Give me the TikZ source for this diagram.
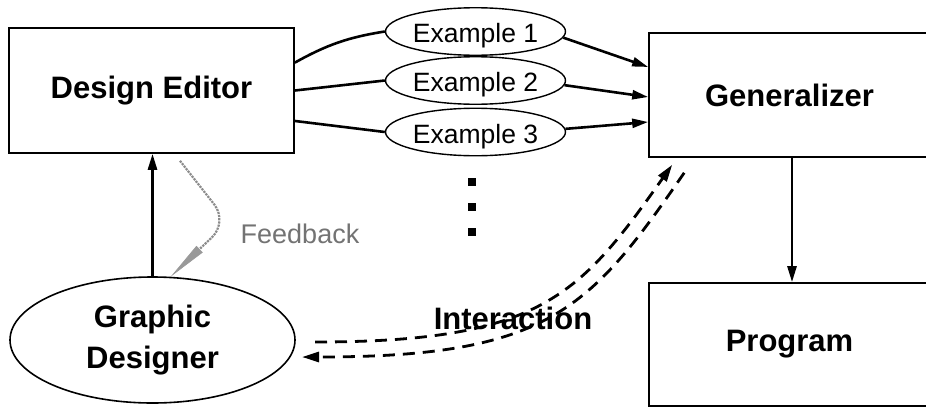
\documentclass[tikz,border=0pt]{standalone}
\usepackage{fontspec}
\setmainfont{Liberation Sans}
\usetikzlibrary{arrows.meta,shapes.geometric,calc}
\tikzset{
  bigbox/.style={draw, line width=1.6pt, rectangle, inner sep=0pt, font=\fontsize{31}{36}\selectfont\bfseries},
  exell/.style={draw, line width=1.4pt, ellipse, inner sep=0pt, minimum width=180pt, minimum height=35pt,
                text height=28pt, text depth=5.6pt, font=\fontsize{26.5}{30}\selectfont},
  link/.style={line width=2.6pt},
  arr/.style={line width=2.6pt, -{Triangle[length=16pt,width=9pt]}},
  dasharr/.style={line width=2.8pt, dash pattern=on 12pt off 8pt, -{Triangle[length=17pt,width=10pt]}},
  dotsq/.style={fill=black, inner sep=0pt, minimum size=8pt, rectangle},
}
\begin{document}
\begin{tikzpicture}[x=1pt,y=-1pt]
\useasboundingbox (0,0) rectangle (926,407);
% boxes
\node[bigbox, minimum width=285pt, minimum height=125pt] (de) at (151.5,90.5) {Design Editor};
\node[bigbox, minimum width=281pt, minimum height=124pt] (gen) at (789.5,95) {Generalizer};
\node[bigbox, minimum width=281pt, minimum height=123pt] (prog) at (789.5,344.5) {Program};
\node[draw, line width=1.6pt, ellipse, inner sep=0pt, minimum width=285pt, minimum height=126pt,
      align=center, font=\fontsize{31}{41}\selectfont\bfseries] (gd) at (152.5,340) {Graphic\\Designer};
% examples
\node[exell] (ex1) at (475.5,31.5) {Example 1};
\node[exell] (ex2) at (475.5,80.5) {Example 2};
\node[exell] (ex3) at (475.5,132) {Example 3};
% links
\draw[link] (de.11) to[bend left=10] (ex1.west);
\draw[link] (de.east) -- (ex2.west);
\draw[link] (de.-12) -- (ex3.west);
\draw[arr] (ex1.-4) -- ([yshift=28pt]gen.west);
\draw[arr] (ex2.-3) -- ([yshift=-2pt]gen.west);
\draw[arr] (ex3.2) -- ([yshift=-27pt]gen.west);
% vertical arrows
\draw[arr] (gd.north) -- (de.south -| gd.north);
\draw[arr] ([xshift=2.5pt]gen.south) -- ([xshift=2.5pt]prog.north);
% dots
\node[dotsq] (d1) at (472,182) {};
\node[dotsq] (d2) at (472,207) {};
\node[dotsq] (d3) at (472,232) {};
% feedback
\coordinate (fb1) at ([xshift=28.5pt,yshift=-7pt]de.south);
\coordinate (fbk) at (228,222);
\draw[black!45, densely dotted, line width=2.2pt, rounded corners=22pt,
      -{Triangle[length=40pt,width=9pt,fill=black!40,color=black!40,line width=0.6pt]}]
  (fb1) -- (fbk) -- (gd.74);
\node[black!55, font=\fontsize{27}{30}\selectfont] (fbl) at (300,234) {Feedback};
% interaction
\coordinate (ia1) at (315,342);
\coordinate (ia2) at ([xshift=24pt,yshift=-7pt]gen.south west);
\coordinate (ib1) at ([xshift=36pt,yshift=-15pt]gen.south west);
\coordinate (ib2) at (302,357);
\draw[dasharr] (ia1) .. controls (541,342) and (580,295) .. (ia2);
\draw[dasharr] (ib1) .. controls (590,309.5) and (548,357) .. (ib2);
\node[font=\fontsize{31}{36}\selectfont\bfseries] (il) at (513,318) {Interaction};
\end{tikzpicture}
\end{document}
